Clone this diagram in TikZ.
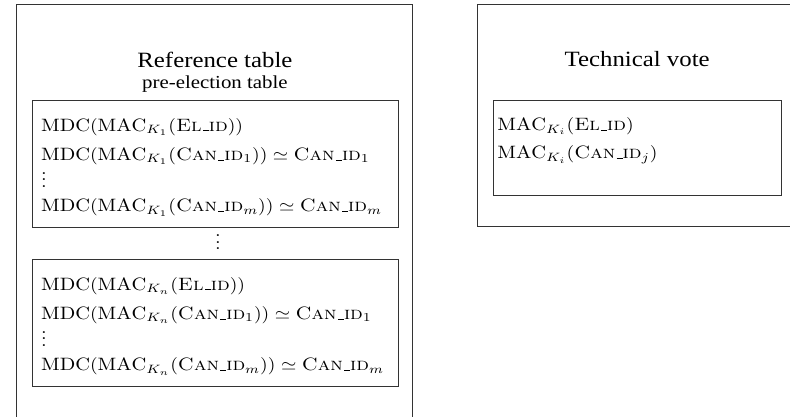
\documentclass[tikz,border=0pt]{standalone}
\usepackage{fontspec}
\usepackage{amsmath}
\usepackage{amssymb}
\newfontfamily\titlefont{Liberation Serif}
\definecolor{frame}{HTML}{333333}
\newcommand{\uscore}{\kern.06em\vbox{\hrule width .3em}}
\newcommand{\elid}{\mbox{\textsc{El\uscore id}}}
\newcommand{\canid}{\mbox{\textsc{Can\uscore id}}}
\newcommand{\mdc}{\mathrm{MDC}}
\newcommand{\mac}{\mathrm{MAC}}
\newcommand{\vdts}{$\smash{\vdots}$}
\tikzset{
  panel/.style={rectangle, draw=frame, line width=1pt, inner sep=0pt},
  tablebox/.style={rectangle, draw=frame, line width=0.9pt, inner sep=0pt},
  boxtitle/.style={font=\titlefont\fontsize{12.6}{15}\selectfont, anchor=base, inner sep=0pt},
  boxsub/.style={font=\titlefont\fontsize{10.6}{13}\selectfont, anchor=base, inner sep=0pt},
  row/.style={font=\fontsize{10.35}{12.4}\selectfont, anchor=base west, inner sep=0pt},
}

\begin{document}
\begin{tikzpicture}[x=1pt, y=-1pt, xscale=1.97, yscale=1.73,
    every node/.append style={transform shape}]
\useasboundingbox (0,0) rectangle (401,241);
% frames
\node[panel, minimum width=201pt, minimum height=247.4pt] (ref) at (109.1,126.3) {};
\node[panel, minimum width=162.4pt, minimum height=127.9pt] (tech) at (323.4,66.7) {};
\node[boxtitle] (reftitle) at (109.1,39.3) {Reference table};
\node[boxsub] (refsub) at (109.1,50.9) {pre-election table};
\node[boxtitle] (techtitle) at (323.4,38.7) {Technical vote};
% tables
\node[tablebox, minimum width=185.8pt, minimum height=73.4pt] (tab1) at (109.6,94.5) {};
\node[tablebox, minimum width=185.8pt, minimum height=73.4pt] (tab2) at (109.6,186.4) {};
\node[tablebox, minimum width=146.2pt, minimum height=54.9pt] (vote) at (323.4,85.3) {};
\node[row, anchor=base] (gap) at (110.6,144.5) {\vdts};
% rows
\foreach \k/\t/\y in {1/tab1/57.8, n/tab2/149.7} {
  \node[row] (\t-el) at (20.65,\y+18.0) {$\mdc(\mac_{K_\k}(\elid))$};
  \node[row] (\t-c1) at (20.65,\y+34.8) {$\mdc(\mac_{K_\k}(\canid_1)) \simeq \canid_1$};
  \node[row] (\t-dots) at (20.65,\y+50.8) {\vdts};
  \node[row] (\t-cm) at (20.65,\y+64.7) {$\mdc(\mac_{K_\k}(\canid_m)) \simeq \canid_m$};
}
\node[row] (vote-el) at (252.3,75.5) {$\mac_{K_i}(\elid)$};
\node[row] (vote-can) at (252.3,91.9) {$\mac_{K_i}(\canid_j)$};
\end{tikzpicture}
\end{document}
